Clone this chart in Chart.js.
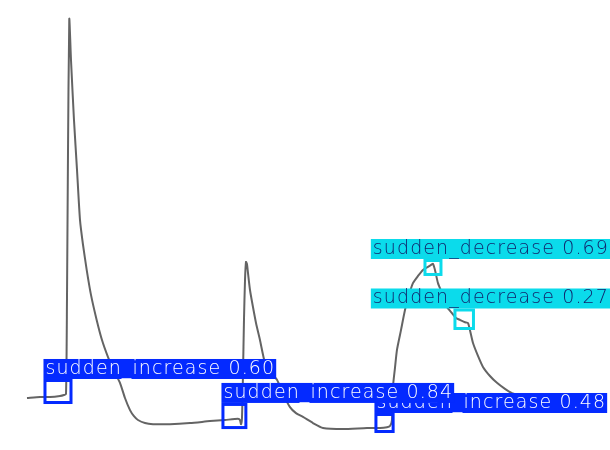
<!DOCTYPE html>
<html>
<head>
<meta charset="utf-8">
<script src="https://cdn.jsdelivr.net/npm/chart.js@4/dist/chart.umd.min.js"></script>
<style>
html,body{margin:0;padding:0;background:#fff;}
#wrap{width:610px;height:450px;}
</style>
</head>
<body>
<div id="wrap"><canvas id="c" width="610" height="450"></canvas></div>
<script>
// signal samples (time, value)
const timeValues = [0,2.27,4.01,5.76,6.46,6.81,6.98,7.16,7.38,7.68,8.20,8.73,9.25,9.77,10.42,11.17,12.16,13.09,14.14,15.18,16.23,17.10,17.98,18.67,19.37,20.59,21.99,24.96,28.45,31.94,34.55,36.82,37.17,37.35,37.52,37.70,37.87,38.05,38.22,38.39,38.57,38.92,39.44,39.97,40.66,41.54,42.41,43.63,44.68,45.90,46.95,48.17,49.91,51.66,55.15,59.34,61.61,62.83,63.35,63.70,63.87,64.22,64.57,65.27,65.97,66.67,67.36,68.24,69.11,69.98,70.51,70.86,71.20,71.73,72.43,73.30,74.17,74.87,75.57,76.44,76.96,77.31,77.84,78.71,79.58,80.80,82.02,83.42,84.64,86.04,88.66,92.15,95.64,100];
const signalValues = [0,0.26,0.26,0.53,0.79,1.06,25.9,65.4,100,89.2,73.4,60.2,47.0,40.5,33.8,27.2,20.6,15.3,10.8,7.1,4.0,0,-3.2,-4.8,-5.8,-6.6,-6.9,-6.9,-6.6,-6.1,-5.8,-5.5,-5.8,-6.9,-5.3,6.6,20.6,31.1,35.9,35.4,33.0,28.5,24.0,19.8,15.3,9.2,6.9,4.8,1.1,-2.4,-4.0,-5.0,-6.6,-7.9,-8.2,-7.9,-7.9,-7.7,-7.4,-5.8,2.9,7.9,12.7,17.9,23.2,27.2,30.3,32.2,33.8,34.6,35.1,35.4,33.8,30.3,27.7,24.0,22.4,21.1,20.6,20.0,19.8,17.9,14.5,11.1,8.2,5.8,4.0,2.4,1.3,0.8,0.3,0,-0.3,-0.5];

// detections (drawing order)
const detClasses = ["sudden_increase","sudden_increase","sudden_increase","sudden_decrease","sudden_decrease"];
const detScores  = [0.48,0.84,0.60,0.69,0.27];
const detTMin = [60.9,34.2,3.14,69.46,74.69];
const detTMax = [63.9,38.2,7.68,72.25,77.92];
const detVMin = [-8.84,-7.8,-1.19,32.59,18.34];
const detVMax = [-4.35,-1.7,4.62,36.28,23.22];

const classColors = {sudden_increase:"rgb(4,42,255)", sudden_decrease:"rgb(11,219,235)"};
const classText = {sudden_increase:"#ffffff", sudden_decrease:"rgb(17,31,104)"};

const detPlugin = {
  id:'detections',
  afterDatasetsDraw(chart){
    const ctx = chart.ctx, xs = chart.scales.x, ys = chart.scales.y;
    const W = chart.width;
    ctx.save();
    ctx.font = '300 19px "DejaVu Sans", "Noto Sans", sans-serif';
    ctx.letterSpacing = '1.1px';
    ctx.textBaseline = 'alphabetic';
    for(let i=0;i<detClasses.length;i++){
      const col = classColors[detClasses[i]];
      const x1 = xs.getPixelForValue(detTMin[i]), x2 = xs.getPixelForValue(detTMax[i]);
      const y1 = ys.getPixelForValue(detVMax[i]), y2 = ys.getPixelForValue(detVMin[i]);
      ctx.lineWidth = 3;
      ctx.strokeStyle = col;
      ctx.strokeRect(x1,y1,x2-x1,y2-y1);
      const txt = detClasses[i]+' '+detScores[i].toFixed(2);
      const tw = ctx.measureText(txt).width;
      const lw = tw + 3, lh = 20;
      let lx = x1 - 1.5;
      if(lx + lw > W) lx = W - lw;
      const ly = y1 - 1.5 - lh;
      ctx.fillStyle = col;
      ctx.fillRect(lx, ly, lw, lh);
      ctx.fillStyle = classText[detClasses[i]];
      ctx.fillText(txt, lx+2, ly+lh-5);
    }
    ctx.restore();
  }
};

new Chart(document.getElementById('c'), {
  type:'line',
  data:{
    datasets:[{
      data: timeValues.map((t,i)=>({x:t,y:signalValues[i]})),
      borderColor:'rgb(100,100,100)',
      borderWidth:2,
      pointRadius:0,
      tension:0.2,
      fill:false
    }]
  },
  options:{
    responsive:false,
    animation:false,
    layout:{padding:0},
    plugins:{legend:{display:false},tooltip:{enabled:false}},
    scales:{
      x:{type:'linear',display:false,min:-4.71,max:101.75},
      y:{type:'linear',display:false,min:-13.72,max:105.01}
    }
  },
  plugins:[detPlugin]
});
</script>
</body>
</html>
